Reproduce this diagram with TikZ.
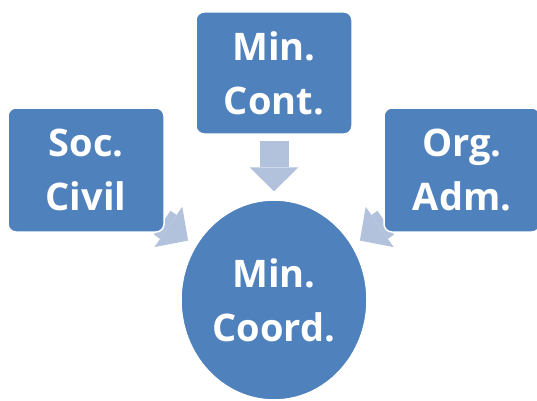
\documentclass[tikz,border=0pt]{standalone}
\usepackage{fontspec}
\setmainfont{Open Sans}
\usetikzlibrary{shapes.geometric,arrows.meta,backgrounds}
\definecolor{boxblue}{HTML}{4F81BD}
\definecolor{arrowblue}{HTML}{B2C2DD}

\begin{document}
\begin{tikzpicture}[x=1pt,y=1pt,
		box/.style={draw=white,line width=1.5pt,fill=boxblue,rounded corners=8pt,minimum width=156pt,minimum height=124pt,inner sep=0pt,align=center,text=white,font=\fontsize{38}{54}\selectfont\bfseries},
		blockarrow/.style={arrowblue,line width=29pt,-{Triangle[length=24pt,width=49pt,line width=0pt]}}]
			\useasboundingbox (0,0) rectangle (537,400);
			\node[box] (soc)at(86,230) {Soc.\\Civil};
			\node[box,minimum height=122pt] (cont)at(274,327) {Min.\\Cont.};
			\node[box] (org)at(462,230) {Org.\\Adm.};
			\node[box,ellipse,sharp corners,minimum width=186pt,minimum height=200pt] (coord)at(274,100) {Min.\\Coord.};
			
			\begin{scope}[on background layer]
				\draw[blockarrow,shorten <=6pt,shorten >=8pt] (cont) -- (coord);
				\draw[blockarrow,shorten <=-3pt,shorten >=8.6pt] (soc) -- (coord);
				\draw[blockarrow,shorten <=-3pt,shorten >=8.6pt] (org) -- (coord);
			\end{scope}
		\end{tikzpicture}
\end{document}
